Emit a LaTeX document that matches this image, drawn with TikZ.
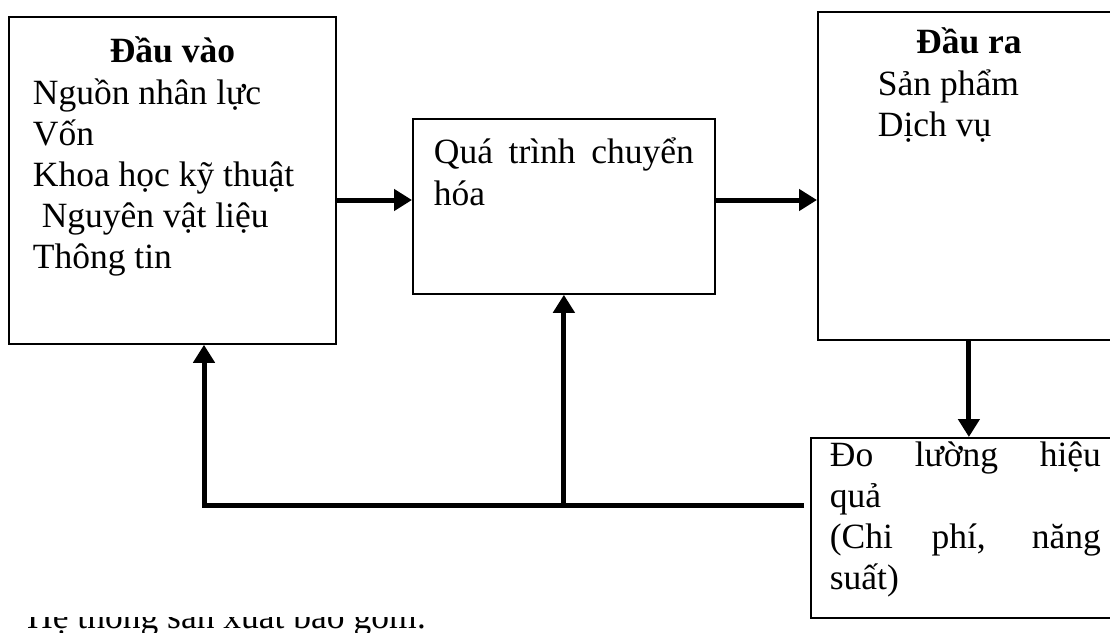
\documentclass[tikz,border=0pt]{standalone}
\usepackage{fontspec}
\setmainfont{Liberation Serif}
\usetikzlibrary{arrows.meta,positioning,calc}

% text block inside a box: width, height, top shift, text
\newcommand{\hopchu}[4]{\parbox[c][#2][t]{#1}{\lineskiplimit=-100pt\vspace*{#3}\hbox{}#4}}

\tikzset{
  khoi/.style={draw, line width=1.8pt, inner sep=0pt, anchor=north west,
    font=\fontsize{35.5}{41.2}\selectfont},
  luong/.style={line width=5pt, -{Triangle[length=18pt,width=21pt]}},
}

\begin{document}
\begin{tikzpicture}[x=1pt,y=-1pt]
  \useasboundingbox (0,0) rectangle (1110,632);
  \fill[white] (0,0) rectangle (1110,632);
  \clip (0,0) rectangle (1110,632);

  % caption line, only its lower part shows
  \begin{scope}
    \clip (0,617) rectangle (800,632);
    \node[anchor=base west, inner sep=0pt, font=\fontsize{35.5}{41.2}\selectfont]
      (ghiChu) at (27,628) {Hệ thống sản xuất bao gồm:};
  \end{scope}

  % boxes
  \node[khoi, minimum width=327pt, minimum height=327pt] (inBox) at (8,16)
    {\hopchu{279pt}{327pt}{4.8pt}{\centerline{\bfseries Đầu vào}
      Nguồn nhân lực\\
      Vốn\\
      Khoa học kỹ thuật\\
      \hspace*{0.25em}Nguyên vật liệu\\
      Thông tin}};
  \node[khoi, minimum width=302pt, minimum height=175pt] (procBox) at (412,118)
    {\hopchu{260pt}{175pt}{3.8pt}{Quá trình chuyển\linebreak hóa}};
  \node[khoi, minimum width=302pt, minimum height=328pt] (outBox) at (817,11)
    {\hopchu{182pt}{328pt}{0.8pt}{\centerline{\bfseries Đầu ra}
      Sản phẩm\\
      Dịch vụ}};
  \node[khoi, minimum width=309pt, minimum height=180pt] (measBox) at (810,437)
    {\hopchu{271pt}{180pt}{-13pt}{Đo lường hiệu\linebreak quả\\
      (Chi phí, năng\linebreak suất)}};

  % arrows
  \coordinate (muc) at (0,200);
  \coordinate (vongL) at (204,505);
  \draw[luong] (inBox.east |- muc) -- (procBox.west |- muc);
  \draw[luong] (procBox.east |- muc) -- (outBox.west |- muc);
  \draw[luong] (outBox.south) -- (outBox.south |- measBox.north);
  \draw[luong, shorten <=6pt] (measBox.west |- vongL) -- (vongL) -- (vongL |- inBox.south);
  \draw[luong] (procBox.south |- vongL) -- (procBox.south);
\end{tikzpicture}
\end{document}
